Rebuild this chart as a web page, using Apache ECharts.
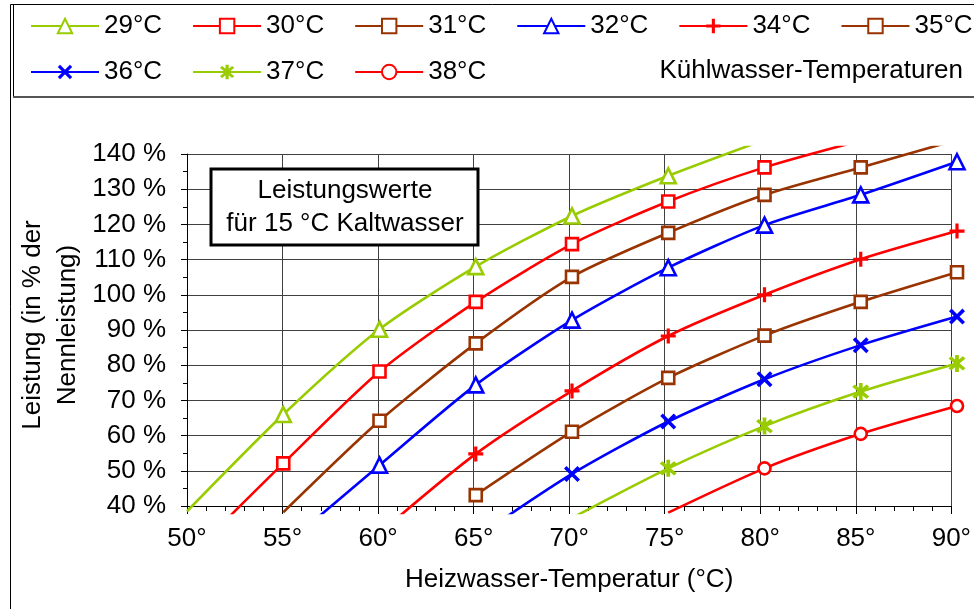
<!DOCTYPE html>
<html>
<head>
<meta charset="utf-8">
<script src="https://cdn.jsdelivr.net/npm/echarts@6/dist/echarts.min.js"></script>
<style>
html,body{margin:0;padding:0;background:#fff;}
#chart{width:974px;height:609px;}
</style>
</head>
<body>
<div id="chart"></div>
<script>
// ---- data ----
const xTicks = [50, 55, 60, 65, 70, 75, 80, 85, 90]; // Heizwasser-Temperatur (°C)
const seriesNames = ['29°C', '30°C', '31°C', '32°C', '34°C', '35°C', '36°C', '37°C', '38°C'];
// Leistung (% der Nennleistung) at each x tick; values outside 40..140 only continue the clipped line
const t29 = [38.5, 66.0, 90.2, 108.0, 122.4, 133.8, 144.0, null, null];
const t30 = [25.0, 52.1, 78.2, 98.0, 114.4, 126.5, 136.2, 143.8, null];
const t31 = [null, 38.2, 64.2, 86.2, 105.1, 117.6, 128.4, 136.2, 144.0];
const t32 = [null, 28.4, 51.6, 74.4, 92.8, 107.7, 119.8, 128.4, 137.8];
const t34 = [null, null, 32.3, 54.8, 72.7, 88.3, 100.0, 110.1, 118.1];
const t35 = [null, null, null, 43.1, 61.1, 76.4, 88.4, 98.0, 106.4];
const t36 = [null, null, null, 31.0, 49.1, 64.0, 76.0, 85.7, 93.8];
const t37 = [null, null, null, null, 36.6, 50.7, 62.7, 72.5, 80.5];
const t38 = [null, null, null, null, null, 38.1, 50.7, 60.5, 68.4];
const seriesValues = [t29, t30, t31, t32, t34, t35, t36, t37, t38];

// ---- styling ----
const GREEN = '#99CC00', RED = '#FF0000', BROWN = '#993300', BLUE = '#0000FF';
const PLUS = 'path://M-1.5,-7 L1.5,-7 L1.5,-1.5 L7,-1.5 L7,1.5 L1.5,1.5 L1.5,7 L-1.5,7 L-1.5,1.5 L-7,1.5 L-7,-1.5 L-1.5,-1.5 Z';
const CROSS = 'path://M-4.03,-5.87 L5.87,4.03 L4.03,5.87 L-5.87,-4.03 Z M-5.87,4.03 L4.03,-5.87 L5.87,-4.03 L-4.03,5.87 Z';
const STAR = 'path://M-4.03,-5.87 L5.87,4.03 L4.03,5.87 L-5.87,-4.03 Z M-5.87,4.03 L4.03,-5.87 L5.87,-4.03 L-4.03,5.87 Z M-1.3,-7 L1.3,-7 L1.3,7 L-1.3,7 Z';
const styles = [
  {c: GREEN, s: 'triangle', size: 15, hollow: true},
  {c: RED, s: 'rect', size: 12, hollow: true},
  {c: BROWN, s: 'rect', size: 12, hollow: true},
  {c: BLUE, s: 'triangle', size: 15, hollow: true},
  {c: RED, s: PLUS, size: 15, hollow: false},
  {c: BROWN, s: 'rect', size: 12, hollow: true},
  {c: BLUE, s: CROSS, size: 16, hollow: false},
  {c: GREEN, s: STAR, size: 17, hollow: false},
  {c: RED, s: 'circle', size: 12, hollow: true}
];

const FONT = 'Liberation Sans, Arial, sans-serif';
const Y_MIN = 40, Y_MAX = 140, X_MIN = 50, X_MAX = 90;
const G = {left: 187, right: 17, top: 154, bottom: 103};
const PAD = 7; // lines are drawn a little beyond the plot area as in the original
const plotH = 609 - G.top - G.bottom;
const yPad = PAD * (Y_MAX - Y_MIN) / plotH;

const chart = echarts.init(document.getElementById('chart'), null, {renderer: 'canvas'});

const series = seriesNames.map((name, i) => {
  const st = styles[i];
  const data = [];
  xTicks.forEach((x, j) => {
    const v = seriesValues[i][j];
    if (v == null) return;
    const inside = v >= Y_MIN && v <= Y_MAX;
    data.push(inside ? {value: [x, v]} : {value: [x, v], symbol: 'none'});
  });
  return {
    name: name,
    type: 'line',
    xAxisIndex: 1,
    yAxisIndex: 1,
    data: data,
    smooth: 0.25,
    symbol: st.s,
    symbolSize: st.size,
    showAllSymbol: true,
    clip: true,
    lineStyle: {color: st.c, width: 2.6},
    itemStyle: st.hollow
      ? {color: '#fff', borderColor: st.c, borderWidth: 2.6}
      : {color: st.c, borderWidth: 0},
    emphasis: {disabled: true},
    z: 3
  };
});

const legendBase = {
  orient: 'horizontal',
  left: 30,
  width: 1200,
  padding: 0,
  itemWidth: 68,
  itemHeight: 18,
  itemGap: 30,
  selectedMode: false,
  textStyle: {fontSize: 26, fontFamily: FONT, color: '#000'}
};

const option = {
  backgroundColor: '#fff',
  animation: false,
  textStyle: {fontFamily: FONT},
  legend: [
    Object.assign({}, legendBase, {top: 13, data: seriesNames.slice(0, 6)}),
    Object.assign({}, legendBase, {top: 59, data: seriesNames.slice(6)})
  ],
  grid: [
    {left: G.left, right: G.right, top: G.top, bottom: G.bottom, containLabel: false},
    {left: G.left, right: G.right, top: G.top - PAD, bottom: G.bottom - PAD, containLabel: false}
  ],
  xAxis: [
    {
      type: 'value', gridIndex: 0, min: X_MIN, max: X_MAX, interval: 5,
      name: 'Heizwasser-Temperatur (°C)', nameLocation: 'middle', nameGap: 61,
      nameTextStyle: {fontSize: 26, fontFamily: FONT, color: '#000'},
      axisLine: {show: true, lineStyle: {color: '#000', width: 1}},
      axisTick: {show: true, length: 8, lineStyle: {color: '#000'}},
      minorTick: {show: true, splitNumber: 5, length: 5, lineStyle: {color: '#000'}},
      axisLabel: {formatter: '{value}°', fontSize: 26, fontFamily: FONT, color: '#000', margin: 20},
      splitLine: {show: true, lineStyle: {color: '#404040', width: 1}}
    },
    {type: 'value', gridIndex: 1, min: X_MIN, max: X_MAX, show: false}
  ],
  yAxis: [
    {
      type: 'value', gridIndex: 0, min: Y_MIN, max: Y_MAX, interval: 10,
      axisLine: {show: true, lineStyle: {color: '#000', width: 1}},
      axisTick: {show: true, length: 6, lineStyle: {color: '#000'}},
      minorTick: {show: true, splitNumber: 2, length: 4, lineStyle: {color: '#000'}},
      axisLabel: {formatter: '{value} %', fontSize: 26, fontFamily: FONT, color: '#000', margin: 21},
      splitLine: {show: true, lineStyle: {color: '#404040', width: 1}}
    },
    {type: 'value', gridIndex: 1, min: Y_MIN - yPad, max: Y_MAX + yPad, show: false}
  ],
  graphic: [
    // outer frame and legend box
    {type: 'polyline', silent: true, z: 0, shape: {points: [[10.5, 609], [10.5, 4.5], [974, 4.5]]}, style: {stroke: '#000', lineWidth: 1, fill: null}},
    {type: 'polyline', silent: true, z: 0, shape: {points: [[13.5, 4.5], [13.5, 96.5]]}, style: {stroke: '#000', lineWidth: 1, fill: null}},
    {type: 'line', silent: true, z: 0, shape: {x1: 13, y1: 97, x2: 974, y2: 97}, style: {stroke: '#555', lineWidth: 2}},
    {type: 'text', silent: true, z: 10, x: 963, y: 71,
      style: {text: 'Kühlwasser-Temperaturen', font: '26px ' + FONT, fill: '#000', align: 'right', verticalAlign: 'middle'}},
    // y axis title
    {type: 'text', silent: true, z: 10, x: 50, y: 325, rotation: Math.PI / 2,
      style: {text: 'Leistung (in % der\nNennleistung)', font: '26px ' + FONT, fill: '#000', align: 'center', verticalAlign: 'middle', lineHeight: 35}},
    // annotation box
    {type: 'rect', silent: true, z: 10, shape: {x: 211, y: 169, width: 267, height: 76},
      style: {fill: '#fff', stroke: '#000', lineWidth: 3}},
    {type: 'text', silent: true, z: 11, x: 345, y: 207,
      style: {text: 'Leistungswerte\nfür 15 °C Kaltwasser', font: '26px ' + FONT, fill: '#000', align: 'center', verticalAlign: 'middle', lineHeight: 33}}
  ],
  series: series
};

chart.setOption(option);
</script>
</body>
</html>
